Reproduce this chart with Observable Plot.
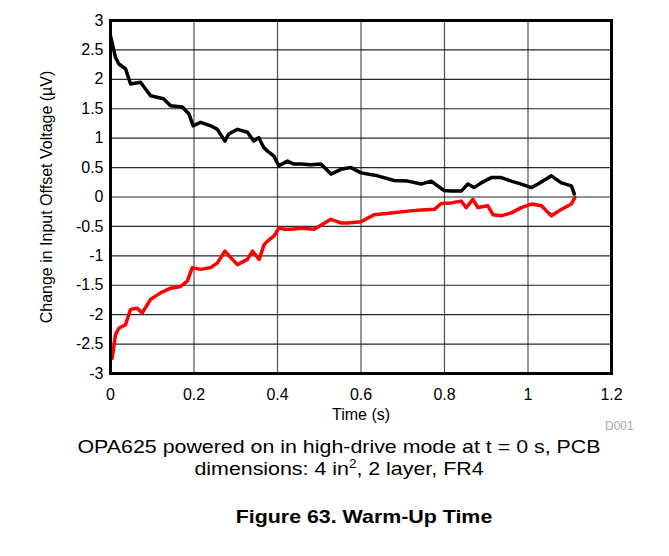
<!DOCTYPE html>
<html>
<head>
<meta charset="utf-8">
<script src="https://cdn.jsdelivr.net/npm/d3@7"></script>
<script src="https://cdn.jsdelivr.net/npm/@observablehq/plot@0.6"></script>
<style>
  html, body { margin: 0; padding: 0; background: #fff; }
  body { width: 669px; height: 556px; position: relative; overflow: hidden; font-family: "Liberation Sans", Arial, sans-serif; }
  #topline { position: absolute; left: 0; top: 5px; width: 669px; height: 2px; background: #000; }
  #chart { position: absolute; left: 0; top: 0; }
  .txt { position: absolute; white-space: nowrap; color: #000; }
  .wide { transform: scaleX(1.125); transform-origin: 50% 50%; }
</style>
</head>
<body>
<div id="topline"></div>
<div id="chart"></div>
<div class="txt" id="d001" style="left:605px; top:419px; font-size:12px; color:#a8a8a8;">D001</div>
<div class="txt wide" style="left:0; width:678px; text-align:center; top:436px; font-size:19px; line-height:22px;">OPA625 powered on in high-drive mode at t = 0 s, PCB<br>dimensions: 4 in<sup style="font-size:12px; line-height:0;">2</sup>, 2 layer, FR4</div>
<div class="txt wide" style="left:0; width:728px; text-align:center; top:506px; font-size:19px; font-weight:bold;">Figure 63. Warm-Up Time</div>
<script>
// Time ticks and offset ticks
const xTicks = [0, 0.2, 0.4, 0.6, 0.8, 1, 1.2];
const yTicks = [-3, -2.5, -2, -1.5, -1, -0.5, 0, 0.5, 1, 1.5, 2, 2.5, 3];

// Upper (black) trace: time (s) and change in offset (µV)
const tBlack = [0.000, 0.012, 0.020, 0.036, 0.048, 0.072, 0.096, 0.127, 0.144, 0.172, 0.188, 0.198, 0.216, 0.240, 0.256, 0.274, 0.283, 0.304, 0.328, 0.343, 0.355, 0.367, 0.376, 0.391, 0.403, 0.424, 0.439, 0.456, 0.480, 0.504, 0.528, 0.552, 0.576, 0.600, 0.640, 0.679, 0.712, 0.744, 0.768, 0.799, 0.816, 0.840, 0.856, 0.871, 0.888, 0.912, 0.936, 0.960, 0.984, 1.008, 1.024, 1.056, 1.080, 1.104, 1.111];
const vBlack = [2.74, 2.37, 2.26, 2.18, 1.92, 1.95, 1.72, 1.67, 1.55, 1.53, 1.41, 1.21, 1.27, 1.21, 1.15, 0.95, 1.07, 1.15, 1.10, 0.95, 1.01, 0.84, 0.78, 0.70, 0.53, 0.61, 0.56, 0.56, 0.55, 0.56, 0.39, 0.47, 0.50, 0.41, 0.36, 0.28, 0.27, 0.22, 0.27, 0.11, 0.10, 0.10, 0.22, 0.16, 0.24, 0.33, 0.33, 0.27, 0.22, 0.16, 0.22, 0.36, 0.24, 0.19, 0.05];

// Lower (red) trace
const tRed = [0.004, 0.012, 0.020, 0.036, 0.048, 0.064, 0.076, 0.096, 0.120, 0.144, 0.168, 0.184, 0.196, 0.216, 0.240, 0.256, 0.274, 0.288, 0.304, 0.328, 0.340, 0.356, 0.368, 0.376, 0.392, 0.404, 0.416, 0.432, 0.456, 0.488, 0.528, 0.552, 0.568, 0.600, 0.632, 0.672, 0.712, 0.744, 0.776, 0.792, 0.816, 0.840, 0.852, 0.868, 0.880, 0.904, 0.916, 0.936, 0.960, 0.984, 1.008, 1.032, 1.056, 1.080, 1.104, 1.112];
const vRed = [-2.74, -2.34, -2.23, -2.17, -1.91, -1.89, -1.97, -1.74, -1.63, -1.55, -1.52, -1.43, -1.20, -1.23, -1.20, -1.12, -0.92, -1.03, -1.15, -1.06, -0.92, -1.06, -0.81, -0.75, -0.66, -0.52, -0.55, -0.55, -0.53, -0.55, -0.38, -0.44, -0.44, -0.42, -0.30, -0.27, -0.24, -0.22, -0.21, -0.11, -0.10, -0.07, -0.18, -0.04, -0.18, -0.15, -0.30, -0.32, -0.27, -0.18, -0.12, -0.15, -0.32, -0.21, -0.12, -0.01];

const black = tBlack.map((t, i) => ({t, v: vBlack[i]}));
const red = tRed.map((t, i) => ({t, v: vRed[i]}));

const fmt = d => String(d);

const chart = Plot.plot({
  width: 669,
  height: 430,
  marginTop: 20,
  marginLeft: 110,
  marginRight: 58,
  marginBottom: 57,
  style: {fontFamily: "'Liberation Sans', Arial, sans-serif", fontSize: "16px", color: "#000", background: "#fff"},
  x: {domain: [0, 1.2]},
  y: {domain: [-3, 3]},
  marks: [
    Plot.gridX(xTicks, {stroke: "#333", strokeOpacity: 0.85, strokeWidth: 1.2}),
    Plot.gridY(yTicks, {stroke: "#111", strokeOpacity: 0.9, strokeWidth: 1.2}),
    Plot.axisX({ticks: xTicks, tickSize: 0, tickPadding: 15, tickFormat: fmt, fontSize: 16,
      label: "Time (s)", labelAnchor: "center", labelOffset: 46, labelArrow: "none"}),
    Plot.axisY({ticks: yTicks, tickSize: 0, tickPadding: 7, tickFormat: fmt, fontSize: 16,
      label: "Change in Input Offset Voltage (µV)", labelAnchor: "center", labelOffset: 70, labelArrow: "none"}),
    Plot.line(black, {x: "t", y: "v", stroke: "#000", strokeWidth: 3.5}),
    Plot.line(red, {x: "t", y: "v", stroke: "#ff0000", strokeWidth: 3.5}),
    Plot.frame({stroke: "#000", strokeWidth: 3})
  ]
});
document.getElementById("chart").appendChild(chart);
</script>
</body>
</html>
